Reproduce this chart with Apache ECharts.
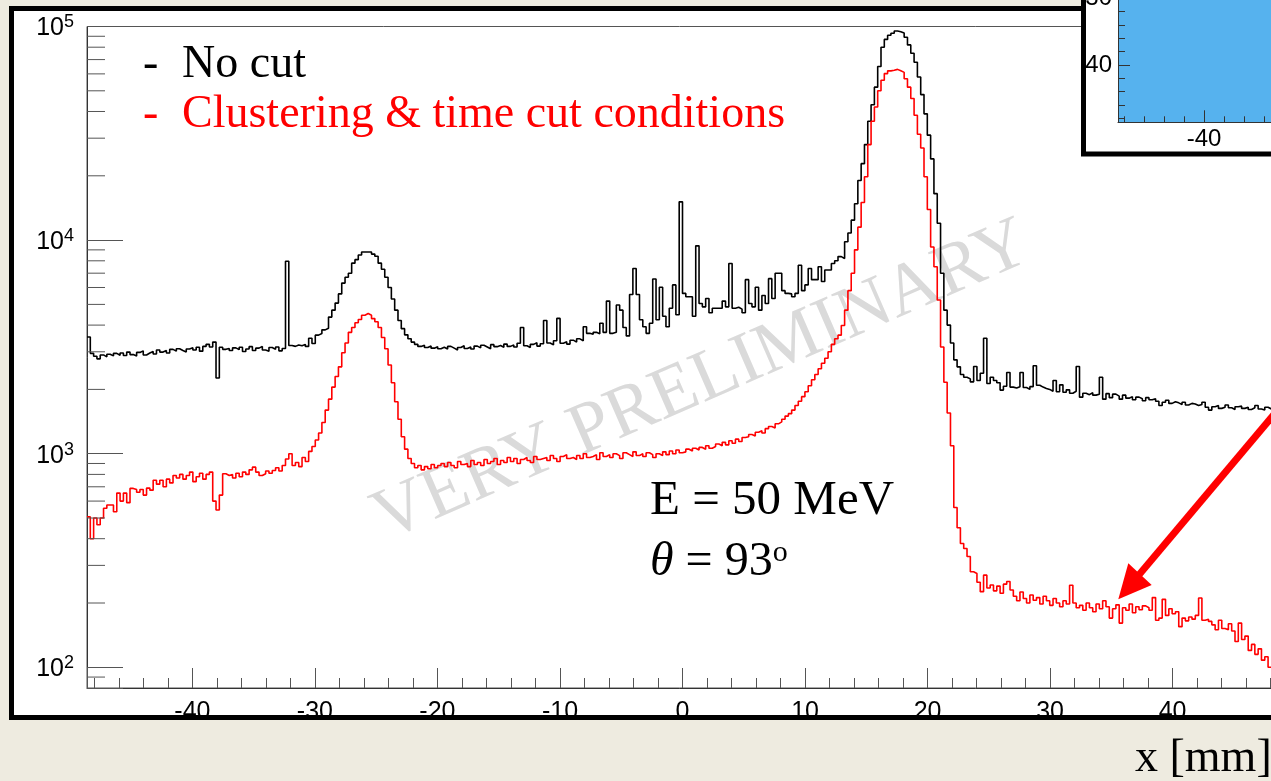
<!DOCTYPE html>
<html>
<head>
<meta charset="utf-8">
<title>x [mm] distribution</title>
<script src="https://cdn.jsdelivr.net/npm/echarts@6/dist/echarts.min.js"></script>
<style>
html, body { margin: 0; padding: 0; background: #fff; }
#main { width: 1271px; height: 781px; }
</style>
</head>
<body>
<div id="main"></div>
<script>
// histogram binning, mm
var X_MIN = -48.6;
var X_MAX = 48.6;
var BIN_W = 0.27;

// counts per bin - "No cut"
var noCut = [
  3520, 2950, 2860, 2780, 2900, 2840, 2920, 2870, 2950, 2890,
  2960, 2880, 2990, 2910, 2870, 2980, 3030, 2900, 2960, 3010,
  2930, 3060, 2990, 3040, 2960, 3080, 3020, 3100, 3040, 2990,
  3090, 3130, 3060, 3150, 3020, 3180, 3250, 3160, 3330, 2260,
  3150, 3080, 3110, 3040, 3130, 3070, 3150, 3010, 3090, 3170,
  3040, 3120, 3180, 3060, 3020, 3140, 3080, 3160, 3030, 3110,
  7960, 3210, 3180, 3230, 3200, 3250, 3180, 3470, 3280, 3590,
  3650, 3800, 3870, 4360, 4700, 5070, 5600, 6290, 6700, 7000,
  7800, 8100, 8510, 8790, 8800, 8790, 8600, 8400, 7800, 7300,
  6700, 6000, 5300, 4700, 4200, 3850, 3600, 3450, 3330, 3250,
  3180, 3220, 3140, 3190, 3120, 3170, 3100, 3150, 3090, 3180,
  3120, 3060, 3140, 3200, 3110, 3160, 3090, 3190, 3130, 3220,
  3160, 3100, 3240, 3170, 3210, 3150, 3260, 3180, 3230, 3160,
  3290, 3900, 3200, 3140, 3250, 3310, 3190, 3270, 4200, 3300,
  3230, 3380, 4300, 3290, 3340, 3260, 3400, 3330, 3450, 3380,
  3930, 3660, 3620, 3700, 3640, 4080, 3700, 5180, 3660, 3700,
  4970, 4700, 3900, 3560, 5560, 7360, 5560, 4240, 3930, 3660,
  4080, 6580, 4240, 6020, 4400, 3930, 4800, 6170, 4470, 15100,
  5630, 5430, 5430, 4400, 9400, 5050, 4870, 5330, 4570, 4800,
  4800, 4800, 5180, 4870, 7770, 4800, 4850, 4750, 4570, 6530,
  5050, 4870, 6020, 4700, 5500, 5050, 6600, 5330, 7000, 7000,
  5800, 5630, 5600, 5430, 5630, 7620, 5800, 6170, 7360, 6530,
  6530, 7500, 6400, 7250, 7250, 7770, 8000, 8370, 8200, 9820,
  10790, 12400, 14800, 19000, 22800, 28000, 36000, 43000, 52000, 65000,
  80000, 87000, 91000, 93000, 95300, 94500, 93300, 89000, 82000, 75000,
  68000, 58000, 48000, 39000, 31000, 24000, 16500, 12000, 7000, 4700,
  4000, 3300, 2750, 2550, 2350, 2280, 2240, 2170, 2560, 2200,
  2380, 3470, 2130, 2280, 2200, 2150, 1985, 2070, 2400, 2050,
  2030, 2060, 2400, 2040, 2000, 2060, 2580, 2090, 2050, 2020,
  2000, 1960, 2200, 1950, 2100, 1940, 1990, 1920, 1960, 2560,
  1840, 1920, 1890, 1930, 1880, 1900, 2280, 1800, 1910, 1830,
  1900, 1860, 1800, 1880, 1820, 1850, 1790, 1840, 1810, 1770,
  1830, 1790, 1810, 1760, 1680, 1740, 1780, 1720, 1750, 1730,
  1700, 1740, 1690, 1720, 1710, 1680, 1700, 1740, 1650, 1600,
  1660, 1680, 1630, 1650, 1690, 1640, 1610, 1660, 1670, 1630,
  1650, 1610, 1640, 1680, 1620, 1600, 1650, 1620, 1640, 1630
];

// counts per bin - "Clustering & time cut conditions"
var withCut = [
  506, 400, 500, 465, 500, 555, 575, 575, 535, 654,
  600, 654, 590, 688, 680, 660, 680, 640, 690, 675,
  751, 720, 751, 700, 760, 730, 790, 770, 800, 760,
  790, 820, 740, 780, 810, 760, 800, 820, 600, 545,
  640, 805, 790, 800, 770, 810, 780, 820, 800, 840,
  865, 820, 790, 805, 830, 810, 835, 860, 830, 880,
  945, 1000, 880, 910, 870, 960, 920, 1025, 1080, 1160,
  1250, 1400, 1600, 1800, 2050, 2300, 2550, 2970, 3300, 3700,
  3900, 4100, 4250, 4450, 4530, 4450, 4290, 4150, 3900, 3500,
  3100, 2600, 2150, 1750, 1450, 1200, 1050, 950, 900, 860,
  880, 840, 870, 850, 890, 860, 880, 900, 870, 910,
  880, 860, 920, 890, 900, 870, 930, 890, 910, 880,
  940, 900, 920, 950, 890, 930, 910, 960, 920, 950,
  900, 940, 960, 930, 910, 970, 940, 950, 960, 930,
  980, 950, 920, 970, 990, 950, 960, 940, 980, 950,
  1000, 960, 970, 990, 940, 1010, 970, 990, 960, 1000,
  980, 950, 1010, 990, 970, 1020, 980, 1000, 970, 1010,
  990, 960, 1000, 980, 1020, 990, 1030, 1000, 1040, 1010,
  1020, 1050, 1030, 1060, 1040, 1070, 1050, 1090, 1060, 1080,
  1110, 1090, 1130, 1100, 1150, 1120, 1170, 1140, 1190, 1200,
  1230, 1210, 1260, 1280, 1250, 1310, 1340, 1320, 1380, 1410,
  1450, 1500, 1540, 1600, 1680, 1760, 1850, 1950, 2080, 2220,
  2350, 2500, 2650, 2800, 3000, 3250, 3450, 3590, 3980, 4700,
  5800, 7000, 9000, 11500, 15000, 19800, 28000, 36000, 42000, 50000,
  56000, 60200, 62000, 62400, 63000, 62000, 61000, 56900, 52000, 46000,
  38400, 31300, 27000, 19800, 13900, 9280, 7500, 5240, 3160, 2160,
  1550, 1090, 560, 450, 380, 360, 330, 280, 275, 250,
  226, 270, 235, 243, 228, 240, 222, 245, 252, 230,
  215, 205, 225, 210, 200, 218, 206, 212, 198, 215,
  205, 195, 210, 200, 192, 205, 198, 242, 200, 190,
  195, 185, 200, 190, 182, 198, 188, 205, 192, 170,
  188, 196, 161, 190, 185, 198, 180, 192, 186, 194,
  190, 185, 212, 166, 170, 208, 175, 188, 178, 182,
  155, 170, 165, 172, 168, 175, 211, 166, 168, 164,
  158, 150, 166, 152, 150, 160, 148, 132, 161, 135,
  140, 120, 128, 115, 122, 108, 112, 100, 98, 95
];

// log axis: minor tick positions (majors are the decades)
var yMinorTicks = [90,
  200, 300, 400, 500, 600, 700, 800, 900,
  2000, 3000, 4000, 5000, 6000, 7000, 8000, 9000,
  20000, 30000, 40000, 50000, 60000, 70000, 80000, 90000];

var legendLabels = ['No cut', 'Clustering & time cut conditions'];
var beamLabels = ['E = 50 MeV', '93'];

var SANS = '"Liberation Sans", Arial, Helvetica, sans-serif';
var SERIF = '"Liberation Serif", "Times New Roman", serif';
var BEIGE = '#eeebe0';

function toSteps(counts) {
  var pts = counts.map(function (c, i) { return [X_MIN + i * BIN_W, c]; });
  pts.push([X_MIN + counts.length * BIN_W, counts[counts.length - 1]]);
  return pts;
}

var chart = echarts.init(document.getElementById('main'), null, { renderer: 'canvas' });

var option = {
  animation: false,
  backgroundColor: '#fff',
  grid: [
    { left: 87, top: 26.5, right: -7, bottom: 93, show: true, borderColor: '#555', borderWidth: 1,
      outerBoundsMode: 'none', containLabel: false },
    // inset hit map (cut by the page edge)
    { left: 1118, top: -525.7, right: -819, bottom: 658.7, show: true,
      backgroundColor: '#56b2ee', borderWidth: 0, z: 11,
      outerBoundsMode: 'none', containLabel: false }
  ],
  xAxis: [{
    type: 'value', min: X_MIN, max: X_MAX, splitNumber: 10,
    axisLine: { onZero: false, lineStyle: { color: '#333', width: 1 } },
    axisTick: { inside: true, length: 20, lineStyle: { color: '#555' } },
    minorTick: { show: true, splitNumber: 5, length: 10, lineStyle: { color: '#555' } },
    splitLine: { show: false },
    axisLabel: { margin: 12, color: '#000', fontSize: 25, fontFamily: SANS,
      showMinLabel: false, showMaxLabel: false }
  }, {
    gridIndex: 1, type: 'value', min: X_MIN, max: X_MAX, splitNumber: 10, z: 12,
    axisLine: { onZero: false, lineStyle: { color: '#333' } },
    axisTick: { inside: true, length: 12, lineStyle: { color: '#333' } },
    minorTick: { show: true, splitNumber: 5, length: 6, lineStyle: { color: '#333' } },
    splitLine: { show: false },
    axisLabel: { margin: 5, color: '#000', fontSize: 24, fontFamily: SANS,
      showMinLabel: false, showMaxLabel: false }
  }],
  yAxis: [{
    type: 'log', logBase: 10, min: 80, max: 100000,
    axisLine: { show: true, onZero: false, lineStyle: { color: '#333', width: 1 } },
    axisTick: { show: true, inside: true, length: 36, lineStyle: { color: '#555' } },
    splitLine: { show: false },
    axisLabel: {
      margin: 13,
      formatter: function (v) {
        var e = Math.log10(v);
        var r = Math.round(e);
        if (Math.abs(e - r) > 1e-6) return '';
        return '{b|10}{s|' + r + '}';
      },
      rich: {
        b: { fontSize: 25, lineHeight: 26, fontFamily: SANS, color: '#000', padding: [4, 0, 0, 0] },
        s: { fontSize: 18, lineHeight: 18, fontFamily: SANS, color: '#000', verticalAlign: 'top' }
      }
    }
  }, {
    gridIndex: 1, type: 'value', inverse: true, min: X_MIN, max: X_MAX, splitNumber: 10, z: 12,
    axisLine: { show: true, onZero: false, lineStyle: { color: '#333' } },
    axisTick: { inside: true, length: 12, lineStyle: { color: '#333' } },
    minorTick: { show: true, splitNumber: 5, length: 7, lineStyle: { color: '#333' } },
    splitLine: { show: false },
    axisLabel: { margin: 6, color: '#000', fontSize: 24, fontFamily: SANS,
      showMinLabel: false, showMaxLabel: false }
  }],
  series: [
    {
      name: legendLabels[0], type: 'line', step: 'end', data: toSteps(noCut),
      symbol: 'none', lineStyle: { color: '#000', width: 1.6 }, z: 3
    },
    {
      name: legendLabels[1], type: 'line', step: 'end', data: toSteps(withCut),
      symbol: 'none', lineStyle: { color: '#ff0000', width: 1.6 }, z: 4
    },
    {
      // minor ticks of the log axis
      type: 'custom', silent: true, clip: false, z: 5,
      data: yMinorTicks.map(function (v) { return [X_MIN, v]; }),
      renderItem: function (params, api) {
        var p = api.coord([api.value(0), api.value(1)]);
        return {
          type: 'line',
          shape: { x1: p[0], y1: p[1], x2: p[0] + 18, y2: p[1] },
          style: { stroke: '#555', lineWidth: 1 }
        };
      }
    }
  ],
  graphic: [
    // watermark
    { type: 'text', x: 702, y: 382, rotation: 0.41, z: 1, silent: true,
      style: { text: 'VERY PRELIMINARY', font: '73px ' + SERIF, fill: '#dadada',
        align: 'center', verticalAlign: 'middle' } },
    // legend
    { type: 'text', x: 143, y: 64.5, z: 6,
      style: { text: '-', font: '46px ' + SERIF, fill: '#000', verticalAlign: 'middle' } },
    { type: 'text', x: 182, y: 64.5, z: 6,
      style: { text: legendLabels[0], font: '46px ' + SERIF, fill: '#000', verticalAlign: 'middle' } },
    { type: 'text', x: 143, y: 114.5, z: 6,
      style: { text: '-', font: '46px ' + SERIF, fill: '#ff0000', verticalAlign: 'middle' } },
    { type: 'text', x: 182, y: 114.5, z: 6,
      style: { text: legendLabels[1], font: '46px ' + SERIF, fill: '#ff0000', verticalAlign: 'middle' } },
    // beam conditions
    { type: 'text', x: 650, y: 501, z: 6,
      style: { text: beamLabels[0], font: '49px ' + SERIF, fill: '#000', verticalAlign: 'middle' } },
    { type: 'text', x: 650, y: 562, z: 6,
      style: { text: '{i|θ} = ' + beamLabels[1] + '{s|o}', font: '48px ' + SERIF, fill: '#000',
        verticalAlign: 'middle',
        rich: {
          i: { font: 'italic 48px ' + SERIF, fill: '#000' },
          s: { font: '30px ' + SERIF, fill: '#000', verticalAlign: 'top', lineHeight: 30 }
        } } },
    // arrow
    { type: 'line', z: 7, shape: { x1: 1138, y1: 576, x2: 1292, y2: 393 },
      style: { stroke: '#ff0000', lineWidth: 7 } },
    { type: 'polygon', z: 7, shape: { points: [[1118.3, 599.3], [1128.3, 563.3], [1151.7, 585]] },
      style: { fill: '#ff0000' } },
    // page background around the canvas frame
    { type: 'rect', z: 8, shape: { x: 0, y: 0, width: 10, height: 781 }, style: { fill: BEIGE } },
    { type: 'rect', z: 8, shape: { x: 0, y: 0, width: 1082, height: 7 }, style: { fill: BEIGE } },
    { type: 'rect', z: 8, shape: { x: 0, y: 719, width: 1271, height: 62 }, style: { fill: BEIGE } },
    { type: 'rect', z: 9, shape: { x: 11.5, y: 8.5, width: 1300, height: 709 },
      style: { fill: 'none', stroke: '#000', lineWidth: 5 } },
    { type: 'text', x: 1135, y: 758.5, z: 9,
      style: { text: 'x [mm]', font: '46px ' + SERIF, fill: '#000', verticalAlign: 'middle' } },
    // inset pad
    { type: 'rect', z: 10, shape: { x: 1083.5, y: -20, width: 400, height: 174 },
      style: { fill: '#fff', stroke: '#000', lineWidth: 5 } }
  ]
};

chart.setOption(option);
</script>
</body>
</html>
